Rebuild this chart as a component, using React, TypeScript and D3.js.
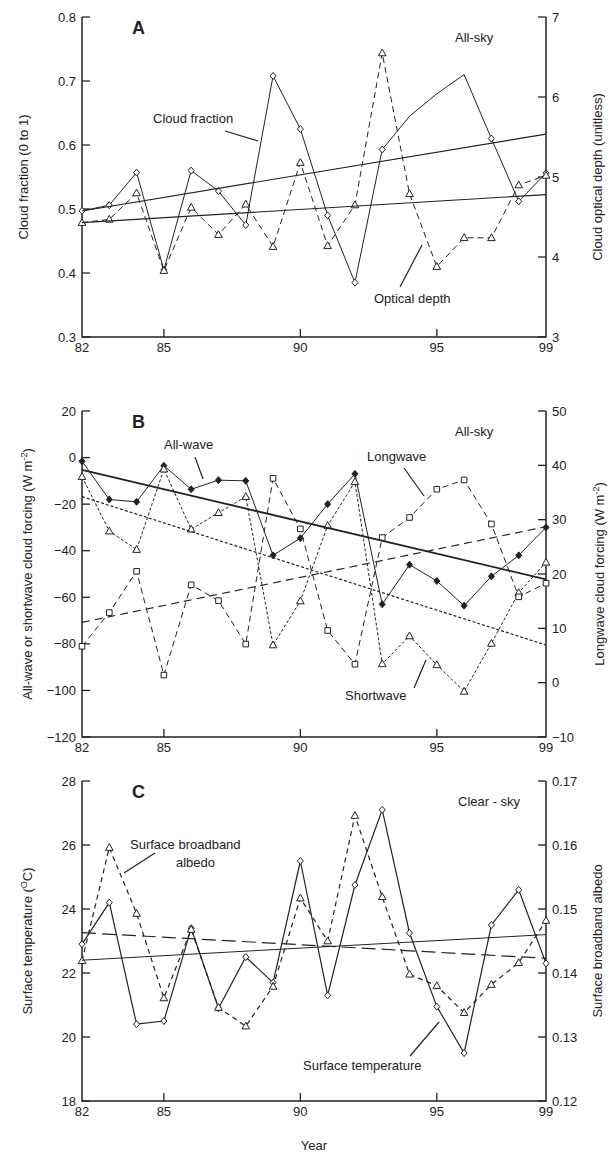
import React, { useRef, useEffect } from 'react';
import * as d3 from 'd3';

const years = d3.range(82, 100);
const xTicks = [82, 85, 90, 95, 99];

// Panel A
const cloudFraction = [0.497, 0.506, 0.557, 0.405, 0.56, 0.528, 0.475, 0.708, 0.625, 0.49, 0.385, 0.593, 0.645, 0.68, 0.71, 0.61, 0.512, 0.556];
const cloudFractionNoMarker = [94, 95, 96];
const opticalDepth = [4.43, 4.47, 4.8, 3.83, 4.62, 4.28, 4.66, 4.13, 5.18, 4.14, 4.65, 6.55, 4.79, 3.88, 4.24, 4.24, 4.9, 5.02];
const cloudFractionTrend = [0.497, 0.617];
const opticalDepthTrend = [4.43, 4.78];

// Panel B
const allWave = [-1.6, -18, -19, -3.5, -13.6, -9.7, -10, -42, -34.6, -20, -7, -63, -46, -53, -63.6, -51, -42, -30];
const shortwave = [-8.2, -31.6, -39.5, -5, -30.8, -23.7, -16.8, -80.5, -61.6, -29.2, -10.4, -88.6, -76.6, -89, -100.4, -79.8, -58, -45];
const longwave = [6.7, 12.9, 20.5, 1.4, 18, 15.1, 7.1, 37.6, 28.3, 9.6, 3.4, 26.7, 30.4, 35.6, 37.3, 29.2, 15.8, 18.3];
const allWaveTrend = [-5.3, -52.3];
const shortwaveTrend = [-16.8, -80.5];
const longwaveTrend = [11.1, 28.7];

// Panel C
const surfaceTemp = [22.9, 24.2, 20.4, 20.5, 23.4, 20.9, 22.5, 21.7, 25.5, 21.3, 24.75, 27.1, 23.25, 20.95, 19.5, 23.5, 24.6, 22.3];
const albedo = [0.1419, 0.1596, 0.1493, 0.1361, 0.1468, 0.1346, 0.1317, 0.1379, 0.1517, 0.145, 0.1646, 0.1519, 0.1398, 0.138, 0.1338, 0.1382, 0.1416, 0.1482];
const surfaceTempTrend = [22.4, 23.2];
const albedoTrend = [0.1463, 0.1423];

const FONT = 'Liberation Sans, Arial, sans-serif';

interface Series {
  values: number[];
  axis: 'left' | 'right';
  dash: string;
  width: number;
  marker?: 'diamond' | 'diamondFilled' | 'triangle' | 'square';
  noMarker?: number[];
  trend?: boolean;
}

interface PanelCfg {
  letter: string;
  top: number;
  bottom: number;
  left: [number, number];
  leftTicks: number[];
  leftFmt: (v: number) => string;
  right: [number, number];
  rightTicks: number[];
  rightFmt: (v: number) => string;
  corner: string;
  series: Series[];
  notes: { text: string[]; x: number; y: number; line: [number, number, number, number] }[];
}

const panels: PanelCfg[] = [
  {
    letter: 'A', top: 17, bottom: 337, left: [0.3, 0.8], leftTicks: [0.3, 0.4, 0.5, 0.6, 0.7, 0.8], leftFmt: d3.format('.1f'),
    right: [3, 7], rightTicks: [3, 4, 5, 6, 7], rightFmt: d3.format('d'), corner: 'All-sky',
    series: [
      { values: cloudFraction, axis: 'left', dash: '', width: 1, marker: 'diamond', noMarker: cloudFractionNoMarker },
      { values: opticalDepth, axis: 'right', dash: '6,4', width: 1, marker: 'triangle' },
      { values: cloudFractionTrend, axis: 'left', dash: '', width: 1.1, trend: true },
      { values: opticalDepthTrend, axis: 'right', dash: '', width: 1.1, trend: true },
    ],
    notes: [
      { text: ['Cloud fraction'], x: 153, y: 123, line: [225, 131, 258, 141] },
      { text: ['Optical depth'], x: 374, y: 303, line: [400, 287, 422, 245] },
    ],
  },
  {
    letter: 'B', top: 411, bottom: 737, left: [-120, 20], leftTicks: [-120, -100, -80, -60, -40, -20, 0, 20], leftFmt: d3.format('d'),
    right: [-10, 50], rightTicks: [-10, 0, 10, 20, 30, 40, 50], rightFmt: d3.format('d'), corner: 'All-sky',
    series: [
      { values: allWave, axis: 'left', dash: '', width: 1, marker: 'diamondFilled' },
      { values: shortwave, axis: 'left', dash: '3,2', width: 1, marker: 'triangle' },
      { values: longwave, axis: 'right', dash: '6,4', width: 1, marker: 'square' },
      { values: allWaveTrend, axis: 'left', dash: '', width: 1.8, trend: true },
      { values: shortwaveTrend, axis: 'left', dash: '3,2', width: 1.2, trend: true },
      { values: longwaveTrend, axis: 'right', dash: '8,5', width: 1.1, trend: true },
    ],
    notes: [
      { text: ['All-wave'], x: 164, y: 449, line: [195, 457, 203, 479] },
      { text: ['Longwave'], x: 367, y: 461, line: [404, 468, 424, 496] },
      { text: ['Shortwave'], x: 345, y: 700, line: [414, 688, 426, 660] },
    ],
  },
  {
    letter: 'C', top: 781, bottom: 1101, left: [18, 28], leftTicks: [18, 20, 22, 24, 26, 28], leftFmt: d3.format('d'),
    right: [0.12, 0.17], rightTicks: [0.12, 0.13, 0.14, 0.15, 0.16, 0.17], rightFmt: d3.format('.2f'), corner: 'Clear - sky',
    series: [
      { values: surfaceTemp, axis: 'left', dash: '', width: 1.2, marker: 'diamond' },
      { values: albedo, axis: 'right', dash: '5,4', width: 1.2, marker: 'triangle' },
      { values: surfaceTempTrend, axis: 'left', dash: '', width: 1, trend: true },
      { values: albedoTrend, axis: 'right', dash: '14,6', width: 1.2, trend: true },
    ],
    notes: [
      { text: ['Surface broadband', 'albedo'], x: 130, y: 849, line: [155, 853, 124, 873] },
      { text: ['Surface temperature'], x: 303, y: 1070, line: [410, 1056, 439, 1022] },
    ],
  },
];

const x = d3.scaleLinear().domain([82, 99]).range([82, 546]);

export default function App() {
  const ref = useRef<SVGSVGElement | null>(null);

  useEffect(() => {
    if (!ref.current) return;
    const svg = d3.select(ref.current);
    svg.selectAll('*').remove();

    panels.forEach(p => {
      const yl = d3.scaleLinear().domain(p.left).range([p.bottom, p.top]);
      const yr = d3.scaleLinear().domain(p.right).range([p.bottom, p.top]);
      const g = svg.append('g');

      // frame
      g.append('path')
        .attr('d', `M82,${p.top}V${p.bottom}H546V${p.top}`)
        .attr('fill', 'none').attr('stroke', '#222').attr('stroke-width', 1.5);

      // ticks
      p.leftTicks.forEach(t => {
        g.append('line').attr('x1', 82).attr('x2', 90).attr('y1', yl(t)).attr('y2', yl(t)).attr('stroke', '#222').attr('stroke-width', 1.3);
        g.append('text').attr('x', 76).attr('y', yl(t) + 4.5).attr('text-anchor', 'end').text(p.leftFmt(t));
      });
      p.rightTicks.forEach(t => {
        g.append('line').attr('x1', 538).attr('x2', 546).attr('y1', yr(t)).attr('y2', yr(t)).attr('stroke', '#222').attr('stroke-width', 1.3);
        g.append('text').attr('x', 552).attr('y', yr(t) + 4.5).text(p.rightFmt(t));
      });
      xTicks.forEach(t => {
        if (t !== 82 && t !== 99) {
          g.append('line').attr('x1', x(t)).attr('x2', x(t)).attr('y1', p.bottom).attr('y2', p.bottom - 8).attr('stroke', '#222').attr('stroke-width', 1.3);
        }
        g.append('text').attr('x', x(t)).attr('y', p.bottom + 15).attr('text-anchor', 'middle').text(String(t));
      });

      g.append('text').attr('x', 132).attr('y', p.top + 17).attr('font-size', 18).attr('font-weight', 'bold').text(p.letter);
      g.append('text').attr('x', p.corner === 'All-sky' ? 455 : 458).attr('y', p.top + 25).text(p.corner);

      p.series.forEach(s => {
        const y = s.axis === 'left' ? yl : yr;
        const xs = s.trend ? [82, 99] : years;
        const line = d3.line<number>().x((_, i) => x(xs[i])).y(v => y(v));
        g.append('path').attr('d', line(s.values)).attr('fill', 'none').attr('stroke', '#222')
          .attr('stroke-width', s.width).attr('stroke-dasharray', s.dash);
        if (!s.marker) return;
        s.values.forEach((v, i) => {
          if (s.noMarker && s.noMarker.includes(xs[i])) return;
          const cx = x(xs[i]), cy = y(v);
          let d = '';
          if (s.marker === 'diamond' || s.marker === 'diamondFilled') d = `M${cx},${cy - 3.5}L${cx + 3},${cy}L${cx},${cy + 3.5}L${cx - 3},${cy}Z`;
          else if (s.marker === 'triangle') d = `M${cx},${cy - 4}L${cx + 3.8},${cy + 2.8}L${cx - 3.8},${cy + 2.8}Z`;
          else d = `M${cx - 2.8},${cy - 2.8}h5.6v5.6h-5.6Z`;
          g.append('path').attr('d', d)
            .attr('fill', s.marker === 'diamondFilled' ? '#222' : 'white')
            .attr('stroke', '#222').attr('stroke-width', 1);
        });
      });

      p.notes.forEach(n => {
        g.append('line').attr('x1', n.line[0]).attr('y1', n.line[1]).attr('x2', n.line[2]).attr('y2', n.line[3]).attr('stroke', '#222').attr('stroke-width', 1.2);
        n.text.forEach((t, i) => {
          g.append('text').attr('x', n.x + (i > 0 ? 46 : 0)).attr('y', n.y + i * 18).text(t);
        });
      });
    });

    const rot = (tx: number, ty: number, html: string) => {
      svg.append('text').attr('transform', `translate(${tx},${ty}) rotate(-90)`).attr('text-anchor', 'middle').html(html);
    };
    rot(28, 177, 'Cloud fraction (0 to 1)');
    rot(602, 177, 'Cloud optical depth (unitless)');
    rot(32, 574, 'All-wave or shortwave cloud forcing (W m<tspan dy="-5" font-size="9">-2</tspan><tspan dy="5">)</tspan>');
    rot(604, 574, 'Longwave cloud forcing (W m<tspan dy="-5" font-size="9">-2</tspan><tspan dy="5">)</tspan>');
    rot(32, 941, 'Surface temperature (<tspan dy="-5" font-size="9">O</tspan><tspan dy="5">C)</tspan>');
    rot(602, 941, 'Surface broadband albedo');
    svg.append('text').attr('x', 314).attr('y', 1150).attr('text-anchor', 'middle').text('Year');
  }, []);

  return (
    <svg ref={ref} width={612} height={1155}
      style={{ position: 'absolute', left: 0, top: 0, background: 'white', fontFamily: FONT, fontSize: 13, fill: '#222' }} />
  );
}
